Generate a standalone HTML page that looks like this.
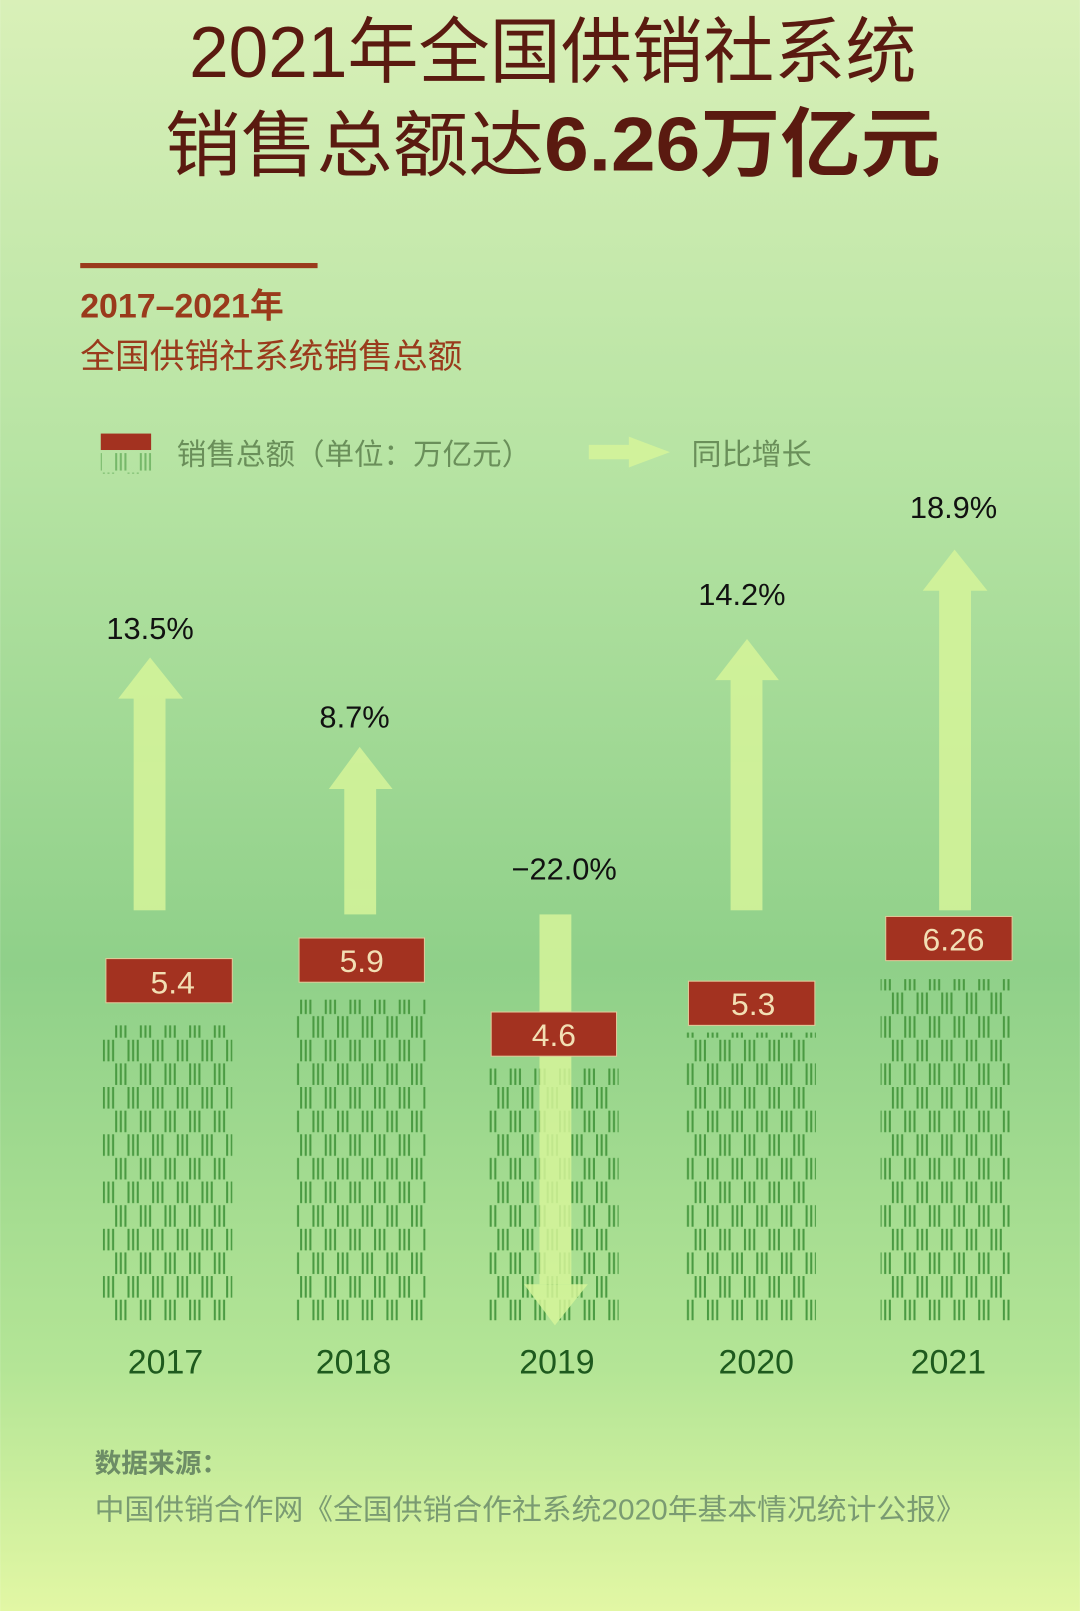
<!DOCTYPE html>
<html><head><meta charset="utf-8"><style>html,body{margin:0;padding:0}body{width:1080px;height:1611px;overflow:hidden}</style></head>
<body>
<svg width="1080" height="1611" viewBox="0 0 1051 1568" xmlns="http://www.w3.org/2000/svg" font-family="'Liberation Sans','Noto Sans CJK SC',sans-serif">
<defs>
<linearGradient id="bg" x1="0" y1="0" x2="0" y2="1">
<stop offset="0" stop-color="#d9f0b8"/>
<stop offset="0.3" stop-color="#b5e3a2"/>
<stop offset="0.6" stop-color="#8fd089"/>
<stop offset="0.85" stop-color="#b4e596"/>
<stop offset="1" stop-color="#e2f7a4"/>
</linearGradient>
<pattern id="pt" x="100" y="0" width="24" height="46" patternUnits="userSpaceOnUse">
<g fill="#4a9a42">
<rect x="0" y="0" width="2" height="21"/><rect x="4.5" y="0" width="2" height="21"/><rect x="9" y="0" width="2" height="21"/>
<rect x="12" y="23" width="2" height="21"/><rect x="16.5" y="23" width="2" height="21"/><rect x="21" y="23" width="2" height="21"/>
</g>
</pattern>
</defs>
<rect width="1051" height="1568" fill="url(#bg)"/>
<g fill="#5a1a10" text-anchor="middle">
<text x="538" y="75" font-size="70" textLength="708" lengthAdjust="spacingAndGlyphs">2021年全国供销社系统</text>
<text x="538" y="166" font-size="70" textLength="755" lengthAdjust="spacingAndGlyphs">销售总额达<tspan font-weight="bold" font-size="74">6.26万亿元</tspan></text>
</g>
<rect x="78" y="256" width="231" height="5" fill="#9a3a1c"/>
<text x="78" y="309" font-size="33" font-weight="bold" fill="#9a3a1c">2017–2021年</text>
<text x="78" y="358" font-size="33" fill="#9a3a1c" textLength="372" lengthAdjust="spacingAndGlyphs">全国供销社系统销售总额</text>
<rect x="98" y="422" width="49" height="16" fill="#a33220"/>
<rect x="98" y="441" width="49" height="20" fill="url(#pt)" opacity="0.6"/>
<text x="172" y="452" font-size="29" fill="#6a8f5a" textLength="345" lengthAdjust="spacingAndGlyphs">销售总额（单位：万亿元）</text>
<g fill="#d6f59a" opacity="0.85">
<rect x="573" y="433" width="45" height="14"/><polygon points="612,425 652,440 612,455"/>
</g>
<text x="673" y="452" font-size="29" fill="#6a8f5a" textLength="117" lengthAdjust="spacingAndGlyphs">同比增长</text>
<!-- bars -->
<rect x="100" y="998" width="126" height="287" fill="url(#pt)"/>
<rect x="288" y="973" width="126" height="312" fill="url(#pt)"/>
<rect x="476" y="1040" width="126" height="245" fill="url(#pt)"/>
<rect x="668" y="1005" width="126" height="280" fill="url(#pt)"/>
<rect x="857" y="953" width="127" height="332" fill="url(#pt)"/>
<!-- arrows -->
<g fill="#d6f59a" opacity="0.85">
<rect x="130" y="678" width="31" height="208"/><polygon points="115,680 146,640 178,680"/>
<rect x="335" y="766" width="31" height="124"/><polygon points="320,768 350,727 382,768"/>
<rect x="525" y="890" width="31" height="360"/><polygon points="510,1250 540,1290 572,1250"/>
<rect x="711" y="660" width="31" height="226"/><polygon points="696,662 727,622 758,662"/>
<rect x="914" y="573" width="31" height="313"/><polygon points="898,575 929,535 961,575"/>
</g>
<g fill="#a33220" stroke="#e3c99a" stroke-width="1">
<rect x="103" y="933" width="123" height="43"/>
<rect x="291" y="913" width="122" height="43"/>
<rect x="478" y="985" width="122" height="43"/>
<rect x="670" y="955" width="123" height="43"/>
<rect x="862" y="892" width="123" height="43"/>
</g>
<g fill="#f2dfb4" font-size="31" text-anchor="middle">
<text x="168" y="967">5.4</text><text x="352" y="946">5.9</text><text x="539" y="1018">4.6</text><text x="733" y="988">5.3</text><text x="928" y="925">6.26</text>
</g>
<g fill="#111" font-size="30" text-anchor="middle">
<text x="146" y="622">13.5%</text><text x="345" y="708">8.7%</text><text x="549" y="856">−22.0%</text><text x="722" y="589">14.2%</text><text x="928" y="504">18.9%</text>
</g>
<g fill="#1e5a1e" font-size="33" text-anchor="middle">
<text x="161" y="1337">2017</text><text x="344" y="1337">2018</text><text x="542" y="1337">2019</text><text x="736" y="1337">2020</text><text x="923" y="1337">2021</text>
</g>
<text x="92" y="1433" font-size="26" font-weight="bold" fill="#6d8d66">数据来源：</text>
<text x="92" y="1479" font-size="28" fill="#7a9b72" textLength="848" lengthAdjust="spacingAndGlyphs">中国供销合作网《全国供销合作社系统2020年基本情况统计公报》</text>
</svg>
</body></html>
